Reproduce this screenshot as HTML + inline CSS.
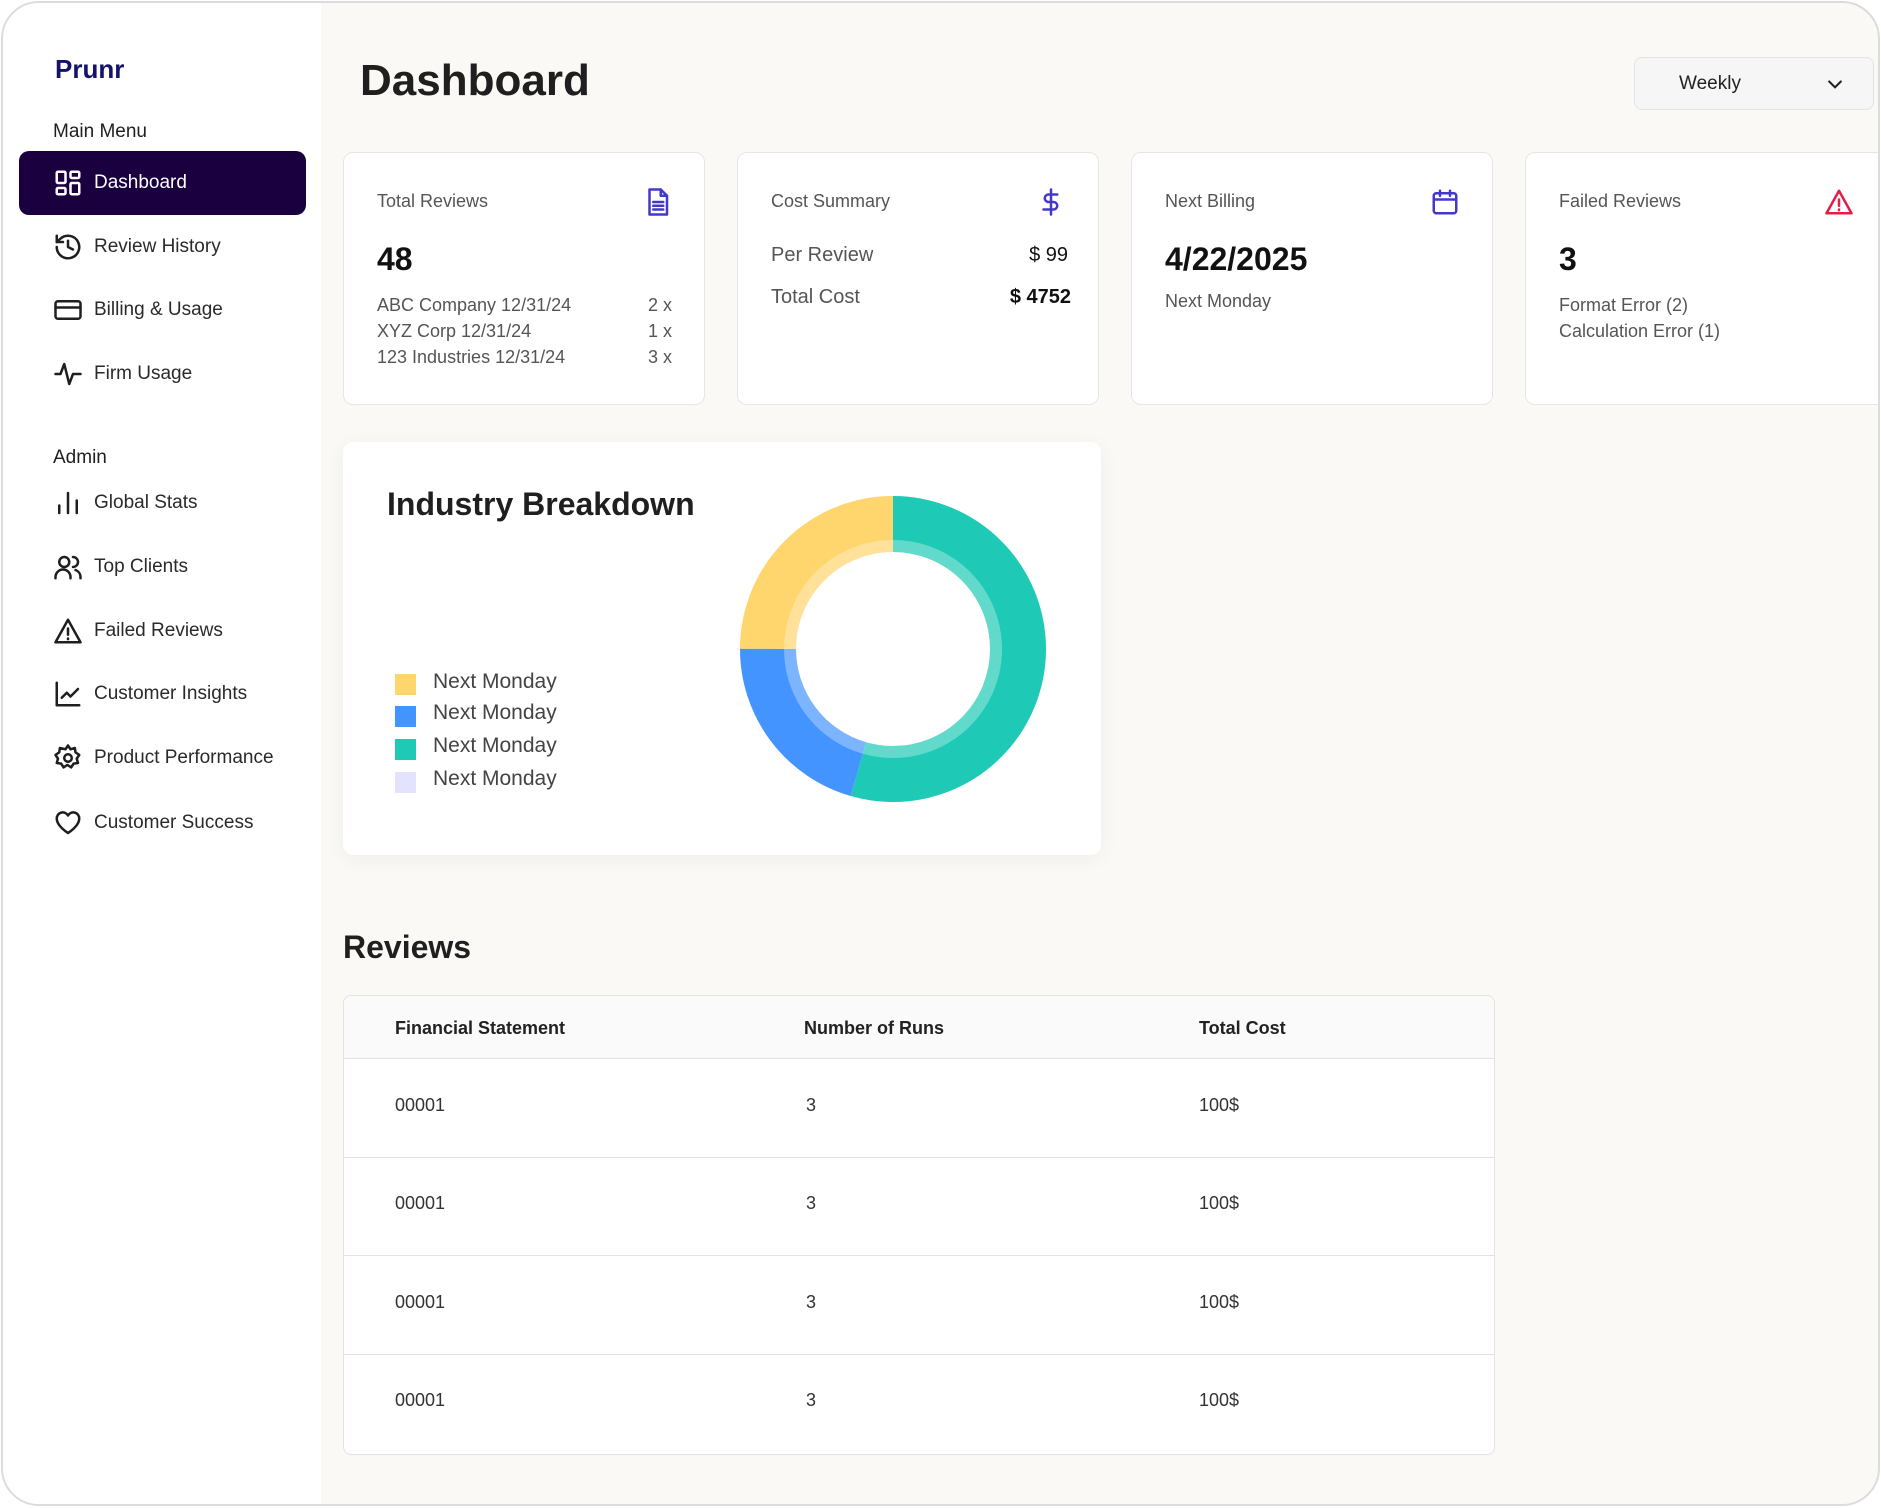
<!DOCTYPE html>
<html><head><meta charset="utf-8"><style>
*{box-sizing:border-box;margin:0;padding:0}
html,body{width:1881px;height:1508px;overflow:hidden;background:#fff;font-family:"Liberation Sans",sans-serif;color:#1f1f1f}
.frame{position:absolute;left:1px;top:1px;width:1879px;height:1505px;border:2px solid #dcdcdc;border-radius:38px;overflow:hidden;background:#faf9f6}
.side{position:absolute;left:0;top:0;width:318px;height:100%;background:#fff}
.abs{position:absolute}
.logo{left:52px;top:51px;font-size:26px;font-weight:bold;color:#13136b}
.sec{font-size:19px;color:#1f1f1f}
.item{position:absolute;left:16px;width:287px;height:64px;display:flex;align-items:center;padding-left:34px;font-size:19px;color:#2a2a2a}
.item svg{width:30px;height:30px;margin-right:11px;fill:none;stroke:#1f1f1f;stroke-width:2;stroke-linecap:round;stroke-linejoin:round}
.item.act{background:#1b0040;color:#fff;border-radius:10px}
.item.act svg{stroke:#fff}
.card{position:absolute;top:149px;width:362px;height:253px;background:#fff;border:1.5px solid #e6e6ea;border-radius:10px}
.ct{position:absolute;left:33px;top:38px;font-size:18px;color:#555}
.ci{position:absolute;right:32px;top:34px;width:30px;height:30px;fill:none;stroke-width:2;stroke-linecap:round;stroke-linejoin:round}
.big{position:absolute;left:33px;top:88px;font-size:32px;font-weight:bold;color:#111}
.ln{position:absolute;left:33px;right:32px;font-size:18px;color:#555;display:flex;justify-content:space-between}
.th{font-weight:bold;font-size:18px;color:#222;position:absolute}
.td{font-size:18px;color:#333;position:absolute}
</style></head><body>
<div class="frame">
<div class="side">
<div class="abs logo">Prunr</div>
<div class="abs sec" style="left:50px;top:118px">Main Menu</div>
<div class="item act" style="top:148px"><svg viewBox="0 0 24 24"><rect x="3" y="3" width="7" height="9" rx="1"/><rect x="14" y="3" width="7" height="5" rx="1"/><rect x="14" y="12" width="7" height="9" rx="1"/><rect x="3" y="16" width="7" height="5" rx="1"/></svg>Dashboard</div>
<div class="item" style="top:212px"><svg viewBox="0 0 24 24"><path d="M3 12a9 9 0 1 0 3-6.7L3 8"/><path d="M3 3v5h5"/><path d="M12 7v5l4 2"/></svg>Review History</div>
<div class="item" style="top:275px"><svg viewBox="0 0 24 24"><rect x="2" y="5" width="20" height="14" rx="2"/><path d="M2 10h20"/></svg>Billing &amp; Usage</div>
<div class="item" style="top:339px"><svg viewBox="0 0 24 24"><path d="M2 12h4l3-8 4 16 3-8h6"/></svg>Firm Usage</div>
<div class="abs sec" style="left:50px;top:444px">Admin</div>
<div class="item" style="top:468px"><svg viewBox="0 0 24 24"><path d="M5 20v-6M12 20V4M19 20v-10"/></svg>Global Stats</div>
<div class="item" style="top:532px"><svg viewBox="0 0 24 24"><circle cx="9" cy="8" r="4"/><path d="M2 21v-1a6 6 0 0 1 12 0v1"/><path d="M16 4a4 4 0 0 1 0 8M22 21v-1a6 6 0 0 0-4-5.6"/></svg>Top Clients</div>
<div class="item" style="top:596px"><svg viewBox="0 0 24 24"><path d="M12 3 2 21h20z"/><path d="M12 10v5M12 18v.5"/></svg>Failed Reviews</div>
<div class="item" style="top:659px"><svg viewBox="0 0 24 24"><path d="M3 3v18h18"/><path d="M7 15l4-4 3 3 6-6"/></svg>Customer Insights</div>
<div class="item" style="top:723px"><svg viewBox="0 0 24 24"><circle cx="12" cy="12" r="3"/><path d="M12 2l2 3 3.5-1 .5 3.5 3 2-2 3 1 3.5-3.5.5-2 3-3-2-3 2-2-3-3.5-.5 1-3.5-2-3 3-2 .5-3.5L10 5z"/></svg>Product Performance</div>
<div class="item" style="top:788px"><svg viewBox="0 0 24 24"><path d="M12 20s-9-5.5-9-11.5A4.8 4.8 0 0 1 12 6a4.8 4.8 0 0 1 9 2.5C21 14.5 12 20 12 20z"/></svg>Customer Success</div>
</div>

<div class="abs" style="left:357px;top:53px;font-size:44px;font-weight:bold;color:#1f1f1f">Dashboard</div>
<div class="abs" style="left:1631px;top:54px;width:240px;height:53px;border:1.5px solid #e3e3e3;border-radius:8px;background:#f6f6f6">
<span class="abs" style="left:44px;top:15px;font-size:19px;color:#222">Weekly</span>
<svg class="abs" style="left:190px;top:16px" width="20" height="20" viewBox="0 0 24 24" fill="none" stroke="#222" stroke-width="2.5" stroke-linecap="round"><path d="M5 9l7 7 7-7"/></svg></div>

<div class="card" style="left:340px"><div class="ct">Total Reviews</div>
<svg class="ci" viewBox="0 0 24 24" stroke="#4338ca"><path d="M6 2h9l5 5v15H6z"/><path d="M15 2v5h5M9 12h8M9 15h8M9 18h8"/></svg>
<div class="big">48</div>
<div class="ln" style="top:142px"><span>ABC Company 12/31/24</span><span>2 x</span></div>
<div class="ln" style="top:168px"><span>XYZ Corp 12/31/24</span><span>1 x</span></div>
<div class="ln" style="top:194px"><span>123 Industries 12/31/24</span><span>3 x</span></div></div>

<div class="card" style="left:734px"><div class="ct">Cost Summary</div>
<svg class="ci" viewBox="0 0 24 24" stroke="#4338ca"><path d="M12 2v20M17 6H10a3 3 0 0 0 0 6h4a3 3 0 0 1 0 6H6"/></svg>
<div class="ln" style="top:91px;font-size:20px;right:30px"><span>Per Review</span><span style="color:#111">$ 99</span></div>
<div class="ln" style="top:133px;font-size:20px;right:27px"><span>Total Cost</span><span style="color:#111;font-weight:bold">$ 4752</span></div></div>

<div class="card" style="left:1128px"><div class="ct">Next Billing</div>
<svg class="ci" viewBox="0 0 24 24" stroke="#4338ca"><rect x="3" y="5" width="18" height="16" rx="2"/><path d="M3 10h18M8 3v4M16 3v4"/></svg>
<div class="big">4/22/2025</div>
<div class="ln" style="top:138px"><span>Next Monday</span></div></div>

<div class="card" style="left:1522px"><div class="ct">Failed Reviews</div>
<svg class="ci" viewBox="0 0 24 24" stroke="#e11d48"><path d="M12 3 2 21h20z"/><path d="M12 10v5M12 18v.5"/></svg>
<div class="big">3</div>
<div class="ln" style="top:142px"><span>Format Error (2)</span></div>
<div class="ln" style="top:168px"><span>Calculation Error (1)</span></div></div>

<div class="abs" style="left:340px;top:439px;width:758px;height:413px;background:#fff;border-radius:10px;box-shadow:0 4px 20px rgba(0,0,0,0.05)">
<div class="abs" style="left:44px;top:44px;font-size:32px;font-weight:bold;color:#1f1f1f">Industry Breakdown</div>
<div class="abs" style="left:52px;top:232px;width:21px;height:21px;background:#ffd56e"></div>
<div class="abs" style="left:90px;top:228px;font-size:21px;color:#444">Next Monday</div>
<div class="abs" style="left:52px;top:264px;width:21px;height:21px;background:#4494ff"></div>
<div class="abs" style="left:90px;top:259px;font-size:21px;color:#444">Next Monday</div>
<div class="abs" style="left:52px;top:297px;width:21px;height:21px;background:#1ecab6"></div>
<div class="abs" style="left:90px;top:292px;font-size:21px;color:#444">Next Monday</div>
<div class="abs" style="left:52px;top:330px;width:21px;height:21px;background:#e3e2ff"></div>
<div class="abs" style="left:90px;top:325px;font-size:21px;color:#444">Next Monday</div>
<svg class="abs" style="left:393px;top:50px" width="314" height="314" viewBox="-157 -157 314 314">
<g transform="rotate(-90)" fill="none" stroke-width="56">
<circle r="125" stroke="#1ecab6" stroke-dasharray="427.6 400"/>
<circle r="125" stroke="#4494ff" stroke-dasharray="161.4 700" stroke-dashoffset="-427.6"/>
<circle r="125" stroke="#ffd56e" stroke-dasharray="196.4 700" stroke-dashoffset="-589"/>
</g>
<circle r="103" fill="none" stroke="#fff" stroke-opacity="0.3" stroke-width="12"/>
</svg>
</div>

<div class="abs" style="left:340px;top:926px;font-size:32px;font-weight:bold;color:#1f1f1f">Reviews</div>
<div class="abs" style="left:340px;top:992px;width:1152px;height:460px;background:#fff;border:1.5px solid #e3e3e3;border-radius:8px;overflow:hidden">
<div class="abs" style="left:0;top:0;width:100%;height:63px;background:#fafafa;border-bottom:1.5px solid #e3e3e3"></div>
<div class="th" style="left:51px;top:22px">Financial Statement</div>
<div class="th" style="left:460px;top:22px">Number of Runs</div>
<div class="th" style="left:855px;top:22px">Total Cost</div>
<div class="abs" style="left:0;top:161px;width:100%;border-top:1.5px solid #e3e3e3"></div>
<div class="abs" style="left:0;top:259px;width:100%;border-top:1.5px solid #e3e3e3"></div>
<div class="abs" style="left:0;top:358px;width:100%;border-top:1.5px solid #e3e3e3"></div>
<div class="td" style="left:51px;top:99px">00001</div><div class="td" style="left:462px;top:99px">3</div><div class="td" style="left:855px;top:99px">100$</div>
<div class="td" style="left:51px;top:197px">00001</div><div class="td" style="left:462px;top:197px">3</div><div class="td" style="left:855px;top:197px">100$</div>
<div class="td" style="left:51px;top:296px">00001</div><div class="td" style="left:462px;top:296px">3</div><div class="td" style="left:855px;top:296px">100$</div>
<div class="td" style="left:51px;top:394px">00001</div><div class="td" style="left:462px;top:394px">3</div><div class="td" style="left:855px;top:394px">100$</div>
</div>
</div>
</body></html>
